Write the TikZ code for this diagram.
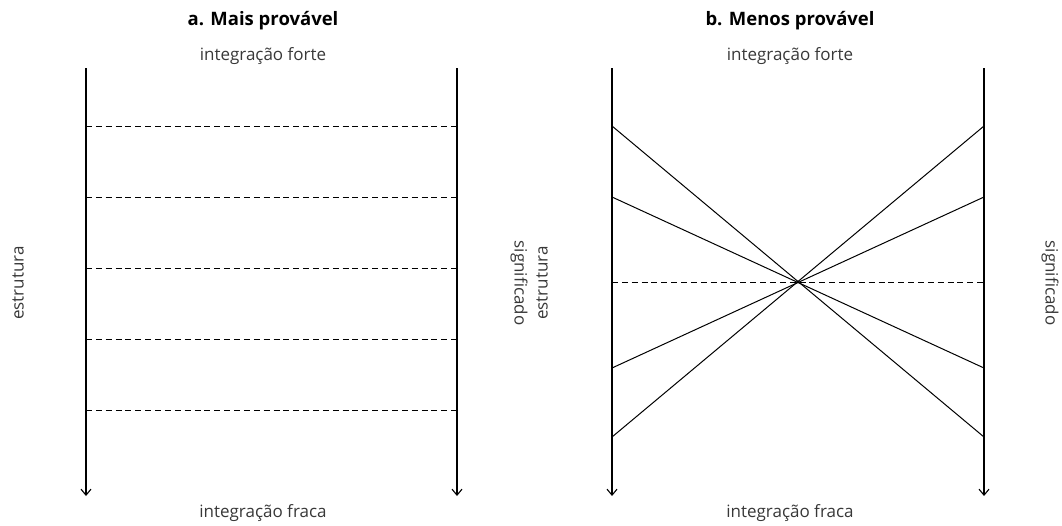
\documentclass[tikz,border=0pt]{standalone}
\usepackage{fontspec}
\setmainfont{Open Sans}
\usetikzlibrary{arrows.meta}
\begin{document}
\begin{tikzpicture}[x=1pt,y=-1pt,
  axis/.style={line width=1.2pt,-{Straight Barb[length=6pt,width=10pt,line width=1.1pt]}},
  rung/.style={line width=0.9pt,dash pattern=on 6pt off 3.87pt},
  ray/.style={line width=1pt},
  lbl/.style={font=\fontsize{17}{19}\selectfont,text=black!78,inner sep=0pt},
  ttl/.style={font=\fontsize{18.5}{21}\selectfont\bfseries,inner sep=0pt}]
\useasboundingbox (0,0) rectangle (1062,525);
% panel a
\node[ttl] (ta) at (263,21) {a. Mais provável};
\node[lbl] (fa) at (263,56) {integração forte};
\node[lbl] (wa) at (263,513) {integração fraca};
\coordinate (a1t) at (86,68); \coordinate (a1b) at (86,496);
\coordinate (a2t) at (457,68); \coordinate (a2b) at (457,496);
\draw[axis] (a1t) -- (a1b);
\draw[axis] (a2t) -- (a2b);
\foreach \y in {126,197,268,339,410}{
  \draw[rung] (86,\y) -- (457,\y);
}
\node[lbl,rotate=90] (ea) at (18,283) {estrutura};
\node[lbl,rotate=-90] (sa) at (519,283) {significado};
% panel b
\node[ttl] (tb) at (790,21) {b. Menos provável};
\node[lbl] (fb) at (790,56) {integração forte};
\node[lbl] (wb) at (790,513) {integração fraca};
\coordinate (b1t) at (612,68); \coordinate (b1b) at (612,496);
\coordinate (b2t) at (984,68); \coordinate (b2b) at (984,496);
\draw[axis] (b1t) -- (b1b);
\draw[axis] (b2t) -- (b2b);
\coordinate (l1) at (612,126); \coordinate (l2) at (612,197);
\coordinate (l3) at (612,368); \coordinate (l4) at (612,437);
\coordinate (r1) at (984,126); \coordinate (r2) at (984,197);
\coordinate (r3) at (984,368); \coordinate (r4) at (984,437);
\draw[ray] (l1) -- (r4);
\draw[ray] (l2) -- (r3);
\draw[ray] (l3) -- (r2);
\draw[ray] (l4) -- (r1);
\coordinate (lm) at (612,282); \coordinate (rm) at (984,282);
\draw[rung] (lm) -- (rm);
\node[lbl,rotate=90] (eb) at (542,283) {estrutura};
\node[lbl,rotate=-90] (sb) at (1050,283) {significado};
\end{tikzpicture}
\end{document}
